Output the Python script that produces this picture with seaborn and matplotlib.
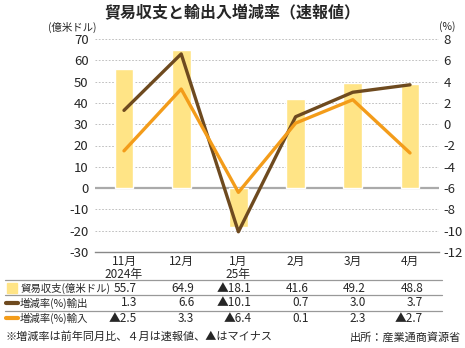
import numpy as np
import pandas as pd
import matplotlib
matplotlib.use("Agg")
import matplotlib.pyplot as plt
import seaborn as sns
from matplotlib.lines import Line2D
from matplotlib.patches import Rectangle

# ---- data ----
months = ["11月\n2024年", "12月", "1月\n25年", "2月", "3月", "4月"]
trade_balance = [55.7, 64.9, -18.1, 41.6, 49.2, 48.8]   # 億米ドル
export_rate = [1.3, 6.6, -10.1, 0.7, 3.0, 3.7]          # %
import_rate = [-2.5, 3.3, -6.4, 0.1, 2.3, -2.7]         # %
left_ticks = [-30, -20, -10, 0, 10, 20, 30, 40, 50, 60, 70]
right_ticks = [-12, -10, -8, -6, -4, -2, 0, 2, 4, 6, 8]
row_labels = ["貿易収支(億米ドル)", "増減率(%)輸出", "増減率(%)輸入"]
title = "貿易収支と輸出入増減率（速報値）"
note_left = "※増減率は前年同月比、４月は速報値、▲はマイナス"
note_right = "出所：産業通商資源省"

BAR = "#FFE486"
BROWN = "#6E4A1F"
ORANGE = "#F39C1A"
GRID = "#b5b5b5"

sns.set_theme(style="white")
plt.rcParams["font.family"] = ["Noto Sans CJK JP", "DejaVu Sans"]

W, H = 465, 348
fig = plt.figure(figsize=(W / 100, H / 100), dpi=100)
ax = fig.add_axes([95.4 / W, 1 - 252 / H, (438.6 - 95.4) / W, 213 / H])

df = pd.DataFrame({"month": months, "balance": trade_balance})
sns.barplot(data=df, x="month", y="balance", order=months, color=BAR,
            saturation=1, width=0.33, ax=ax, zorder=2)
ax.set_xlim(-0.5, len(months) - 0.5)
ax.set_ylim(-30, 70)
ax.set_yticks(left_ticks)
ax.set_yticklabels([str(t) for t in left_ticks])
ax.set_xlabel("")
ax.set_ylabel("")
for t in left_ticks:
    if t not in (-30, 0):
        ax.axhline(t, color=GRID, lw=0.6, ls=(0, (2, 2)), zorder=0)
ax.axhline(0, color="#aaaaaa", lw=1.6, zorder=1)
for s in ["top", "right", "left"]:
    ax.spines[s].set_visible(False)
ax.spines["bottom"].set_color("#888888")
ax.spines["bottom"].set_linewidth(1.0)
ax.tick_params(axis="y", length=0, pad=5, labelsize=9.5)
ax.tick_params(axis="x", length=0, pad=2, labelsize=8.5)
for lbl in ax.get_xticklabels():
    lbl.set_linespacing(1.0)

ax2 = ax.twinx()
xpos = np.arange(len(months))
sns.lineplot(x=xpos, y=export_rate, ax=ax2, color=BROWN, lw=2.4, zorder=3)
sns.lineplot(x=xpos, y=import_rate, ax=ax2, color=ORANGE, lw=2.4, zorder=3)
ax2.set_ylim(-12, 8)
ax2.set_yticks(right_ticks)
ax2.set_yticklabels([str(t) for t in right_ticks])
ax2.set_xlim(-0.5, len(months) - 0.5)
for s in ["top", "right", "left", "bottom"]:
    ax2.spines[s].set_visible(False)
ax2.tick_params(axis="y", length=0, pad=3.5, labelsize=9.5)
ax2.grid(False)
ax.grid(False)

# units and title
fig.text(96 / W, 1 - 27 / H, "(億米ドル)", ha="right", va="center", fontsize=7.5)
fig.text(447 / W, 1 - 27 / H, "(%)", ha="center", va="center", fontsize=7.5)
fig.text(232 / W, 1 - 13 / H, title, ha="center", va="center", fontsize=11.5,
         fontweight="bold")

# table beneath
def fmt(v):
    return ("▲" + f"{abs(v):.1f}") if v < 0 else f"{v:.1f}"

rows = [trade_balance, export_rate, import_rate]
row_y = [288, 303, 318]
for yl in [280, 295, 310.5]:
    fig.add_artist(Line2D([5 / W, 442 / W], [1 - yl / H, 1 - yl / H],
                          color="#999999", lw=0.9))
fig.add_artist(Rectangle((7 / W, 1 - 293 / H), 10 / W, 10 / H, color=BAR,
                         transform=fig.transFigure))
fig.add_artist(Line2D([6 / W, 18 / W], [1 - 303 / H] * 2, color=BROWN, lw=3,
                      solid_capstyle="round"))
fig.add_artist(Line2D([6 / W, 18 / W], [1 - 318 / H] * 2, color=ORANGE, lw=3,
                      solid_capstyle="round"))
for lab, vals, yp in zip(row_labels, rows, row_y):
    fig.text(20 / W, 1 - yp / H, lab, ha="left", va="center", fontsize=7.5)
    for i, v in enumerate(vals):
        xp = ax.transData.transform((i, 0))[0] / (W) + 13 / W
        fig.text(xp, 1 - yp / H, fmt(v), ha="right", va="center", fontsize=8.5)

fig.text(5 / W, 1 - 337 / H, note_left, ha="left", va="center", fontsize=8)
fig.text(461 / W, 1 - 337 / H, note_right, ha="right", va="center", fontsize=8)

fig.savefig("out.png", dpi=100)
